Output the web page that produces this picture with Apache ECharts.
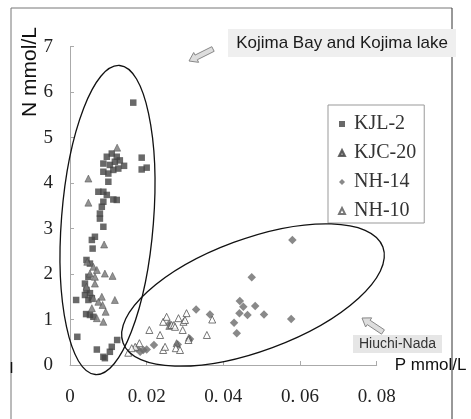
<!DOCTYPE html>
<html>
<head>
<meta charset="utf-8">
<script src="https://cdn.jsdelivr.net/npm/echarts@6/dist/echarts.min.js"></script>
<style>html,body{margin:0;padding:0;background:#fff}#c{width:471px;height:419px}</style>
</head>
<body>
<div id="c"></div>
<script>
// ---- data (P mmol/L, N mmol/L) ----
var seriesNames = ['KJL-2', 'KJC-20', 'NH-14', 'NH-10'];
var kjl2 = [
[0.0165,5.77],[0.0187,4.56],[0.0187,4.30],[0.0200,4.34],[0.0141,4.38],
[0.0096,4.58],[0.0109,4.65],[0.0122,4.58],[0.0087,4.43],[0.0104,4.40],[0.0117,4.47],[0.0130,4.50],
[0.0087,4.25],[0.0100,4.21],[0.0113,4.29],[0.0126,4.32],[0.0100,4.03],
[0.0074,3.81],[0.0087,3.81],[0.0096,3.74],[0.0122,3.63],[0.0113,3.64],[0.0087,3.59],[0.0083,3.48],
[0.0078,3.33],[0.0078,3.22],[0.0087,3.04],
[0.0065,2.82],[0.0057,2.75],[0.0059,2.56],
[0.0043,2.31],[0.0052,2.23],[0.0048,1.94],[0.0039,1.79],[0.0043,1.65],[0.0039,1.54],[0.0052,1.58],
[0.0057,1.47],[0.0048,1.43],[0.0016,1.43],
[0.0042,1.12],[0.0052,1.10],[0.0061,1.06],
[0.0019,0.62],[0.0070,0.34],[0.0087,0.18],[0.0091,0.15],[0.0109,0.40],[0.0104,0.29],[0.0123,0.55]
];
var kjc20 = [
[0.0048,4.10],[0.0048,3.57],[0.0123,4.78],[0.0089,2.65],
[0.0045,2.27],[0.0061,2.16],[0.0070,2.09],[0.0052,2.01],[0.0065,1.94],[0.0043,1.72],[0.0065,1.79],
[0.0091,2.01],[0.0111,1.96],[0.0083,1.50],[0.0061,1.47],[0.0074,1.39],[0.0085,1.32],[0.0093,1.17],
[0.0117,1.43],[0.0070,1.03],[0.0087,0.95],[0.0057,1.25],
[0.0310,0.60],[0.0278,0.48],[0.0259,0.86]
];
var nh14 = [
[0.0580,2.75],[0.0474,1.93],[0.0443,1.41],[0.0452,1.28],[0.0442,1.14],[0.0483,1.30],[0.0463,1.10],
[0.0506,1.11],[0.0577,1.01],[0.0428,0.93],[0.0435,0.70],
[0.0329,1.22],[0.0365,1.11],[0.0313,0.57],[0.0219,0.44],[0.0191,0.33],[0.0183,0.29],[0.0200,0.34],
[0.0174,0.37],[0.0281,0.45],[0.0259,0.90]
];
var nh10 = [
[0.0152,0.27],[0.0170,0.40],[0.0181,0.48],[0.0161,0.37],[0.0207,0.77],[0.0235,0.66],[0.0243,0.95],
[0.0252,1.06],[0.0265,0.88],[0.0283,1.03],[0.0296,0.95],[0.0304,1.14],[0.0294,0.77],[0.0271,0.88],
[0.0243,0.33],[0.0248,0.40],[0.0276,0.37],[0.0287,0.33],[0.0357,0.66],[0.0371,1.00],[0.0309,0.55],
[0.0300,0.99],[0.0274,0.84]
];
var xTicks = {min: 0, max: 0.08, interval: 0.02};
var yTicks = {min: 0, max: 7, interval: 1};

// ---- annotation helpers ----
function arrow(tx, ty, hx, hy) {
  var dx = hx - tx, dy = hy - ty, L = Math.sqrt(dx*dx + dy*dy);
  var ux = dx / L, uy = dy / L, nx = -uy, ny = ux;
  var w1 = 2.6, w2 = 5.5, hl = 8;
  var kx = hx - ux*hl, ky = hy - uy*hl;
  return [
    [tx + nx*w1, ty + ny*w1], [kx + nx*w1, ky + ny*w1], [kx + nx*w2, ky + ny*w2],
    [hx, hy], [kx - nx*w2, ky - ny*w2], [kx - nx*w1, ky - ny*w1], [tx - nx*w1, ty - ny*w1]
  ];
}
var serif = '"Liberation Serif", "DejaVu Serif", serif';
var sans = '"Liberation Sans", Arial, sans-serif';

var chart = echarts.init(document.getElementById('c'), null, {renderer: 'canvas'});
chart.setOption({
  animation: false,
  backgroundColor: '#fff',
  grid: {left: 70, top: 46.7, right: 94.3, bottom: 54},
  legend: {
    orient: 'vertical', left: 328, top: 105,
    data: seriesNames,
    borderColor: '#999', borderWidth: 1,
    padding: [9, 8, 2, 10],
    itemWidth: 6, itemHeight: 6, itemGap: 9,
    textStyle: {fontFamily: serif, fontSize: 20, color: '#333', lineHeight: 20, padding: [0, 0, 0, 4]}
  },
  xAxis: {
    type: 'value', min: xTicks.min, max: xTicks.max, interval: xTicks.interval,
    name: 'P mmol/L', nameLocation: 'end', nameGap: 18,
    nameTextStyle: {fontFamily: sans, fontSize: 17, color: '#111', padding: [12, 0, 0, 0], verticalAlign: 'middle'},
    axisLine: {lineStyle: {color: '#aaa', width: 1}},
    axisTick: {inside: true, length: 4, lineStyle: {color: '#aaa'}},
    splitLine: {show: false},
    axisLabel: {margin: 23, fontFamily: serif, fontSize: 19, color: '#222',
      formatter: function (v) { return v === 0 ? '0' : v.toFixed(2).replace('.', '. '); }}
  },
  yAxis: {
    type: 'value', min: yTicks.min, max: yTicks.max, interval: yTicks.interval,
    axisLine: {show: true, lineStyle: {color: '#aaa', width: 1}},
    axisTick: {show: true, inside: true, length: 4, lineStyle: {color: '#aaa'}},
    splitLine: {show: false},
    axisLabel: {margin: 17, fontFamily: serif, fontSize: 19, color: '#222'}
  },
  series: [
    {name: 'KJL-2', type: 'scatter', data: kjl2, symbol: 'rect', symbolSize: 6.5,
     itemStyle: {color: '#444'}, z: 3},
    {name: 'KJC-20', type: 'scatter', data: kjc20, symbol: 'triangle', symbolSize: 7,
     itemStyle: {color: '#777', borderColor: '#444', borderWidth: 0.6}, z: 4},
    {name: 'NH-14', type: 'scatter', data: nh14, symbol: 'diamond', symbolSize: 8.5,
     itemStyle: {color: '#6c6c6c'}, z: 3},
    {name: 'NH-10', type: 'scatter', data: nh10, symbol: 'triangle', symbolSize: 7,
     itemStyle: {color: '#fff', borderColor: '#555', borderWidth: 1}, z: 4}
  ],
  graphic: [
    // ellipses
    {type: 'ellipse', shape: {cx: 0, cy: 0, rx: 46, ry: 155}, x: 107.5, y: 220,
     rotation: -4.5 * Math.PI / 180, style: {fill: 'none', stroke: '#111', lineWidth: 1.3}, z: 10},
    {type: 'ellipse', shape: {cx: 0, cy: 0, rx: 138.5, ry: 56}, x: 253, y: 295,
     rotation: 20.3 * Math.PI / 180, style: {fill: 'none', stroke: '#111', lineWidth: 1.3}, z: 10},
    // frame
    {type: 'line', shape: {x1: 11, y1: 8, x2: 452, y2: 8}, style: {stroke: '#777', lineWidth: 1}, z: 20},
    {type: 'line', shape: {x1: 11, y1: 8, x2: 11, y2: 419}, style: {stroke: '#777', lineWidth: 1}, z: 20},
    {type: 'line', shape: {x1: 11.5, y1: 362, x2: 11.5, y2: 373}, style: {stroke: '#111', lineWidth: 1.5}, z: 21},
    {type: 'line', shape: {x1: 452, y1: 8, x2: 452, y2: 419}, style: {stroke: '#333', lineWidth: 1}, z: 20},
    // top annotation
    {type: 'rect', shape: {x: 228, y: 29, width: 228, height: 28}, style: {fill: '#efefef'}, z: 22},
    {type: 'text', x: 342, y: 43, style: {text: 'Kojima Bay and Kojima lake', font: '17px ' + sans,
      fill: '#1a1a1a', align: 'center', verticalAlign: 'middle'}, z: 23},
    {type: 'polygon', shape: {points: arrow(213, 49, 189, 61)}, style: {fill: '#ddd', stroke: '#888', lineWidth: 1}, z: 22},
    // bottom annotation
    {type: 'rect', shape: {x: 353, y: 335, width: 89, height: 18}, style: {fill: '#e6e6e6'}, z: 22},
    {type: 'text', x: 397.5, y: 344, style: {text: 'Hiuchi-Nada', font: '14px ' + sans,
      fill: '#333', align: 'center', verticalAlign: 'middle'}, z: 23},
    {type: 'polygon', shape: {points: arrow(383, 332, 362, 318)}, style: {fill: '#ddd', stroke: '#888', lineWidth: 1}, z: 22},
    // y axis name
    {type: 'text', x: 30, y: 72, rotation: Math.PI / 2, style: {text: 'N mmol/L', font: '21px ' + sans,
      fill: '#111', align: 'center', verticalAlign: 'middle'}, z: 23}
  ]
});
</script>
</body>
</html>
